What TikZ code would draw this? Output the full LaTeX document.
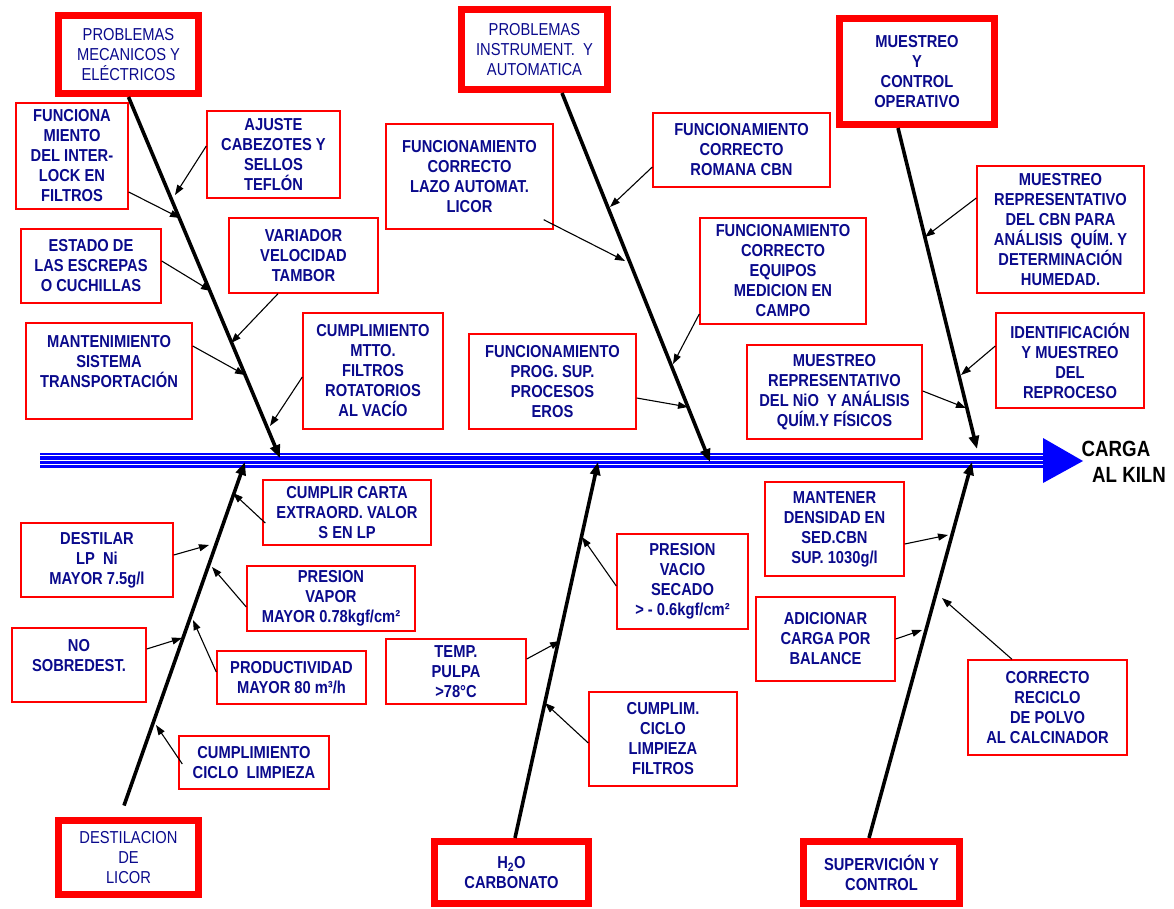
\documentclass[tikz,border=0pt]{standalone}
\usepackage{fontspec}
\setmainfont{Liberation Sans}[FakeStretch=0.85]
\usetikzlibrary{arrows.meta}
\definecolor{navy}{RGB}{10,10,140}
\newcommand\cfont{\fontsize{17.3}{20}\selectfont}
\newcommand\kfont{\fontsize{22}{26}\selectfont}
\tikzset{
  cause/.style={draw=red, line width=1.4pt, text=navy, font=\cfont\bfseries, align=center, inner sep=0pt},
  hdr/.style={draw=red, line width=7pt, text=navy, font=\cfont, align=center, inner sep=0pt},
  hdrb/.style={hdr, font=\cfont\bfseries},
  bone/.style={line width=3.6pt, -{Triangle[length=13pt,width=10pt]}},
  arr/.style={line width=1.1pt, -{Triangle[length=10pt,width=7pt]}},
  kiln/.style={font=\kfont\bfseries, text=black, inner sep=0pt}
}
\begin{document}
\begin{tikzpicture}[x=1pt,y=-1pt]
\useasboundingbox (0,0) rectangle (1174,908);
% spine
\fill[blue] (40,452.5) rectangle (1050,467.5);
\draw[white, line width=1.3pt] (40,455.6) -- (1050,455.6);
\draw[white, line width=0.9pt] (40,460.5) -- (1050,460.5);
\draw[white, line width=1.1pt] (40,464.4) -- (1050,464.4);
\fill[blue] (1043,438) -- (1083,461) -- (1043,483) -- cycle;
\node[kiln] (carga) at (1116,449) {CARGA};
\node[kiln] (alkiln) at (1129,475) {AL KILN};

% headers
\node[hdr, minimum width=140pt, minimum height=78pt] (h1) at (128.5,54.5) {PROBLEMAS\\MECANICOS Y\\ELÉCTRICOS};
\node[hdr, minimum width=146pt, minimum height=80pt] (h2) at (534.5,49.5) {PROBLEMAS\\INSTRUMENT.~~Y\\AUTOMATICA};
\node[hdrb, minimum width=155pt, minimum height=106pt] (h3) at (917,71.5) {MUESTREO\\Y\\CONTROL\\OPERATIVO};
\node[hdr, minimum width=140pt, minimum height=74pt] (h4) at (128.5,857.5) {DESTILACION\\DE\\LICOR};
\node[hdrb, minimum width=154pt, minimum height=62pt] (h5) at (511.5,872.5) {H\textsubscript{2}O\\CARBONATO};
\node[hdrb, minimum width=156pt, minimum height=62pt] (h6) at (881.5,872.5) {SUPERVICIÓN Y\\CONTROL};

% bone ends
\coordinate (s1) at (280,458);
\coordinate (s2) at (710,462);
\coordinate (s3) at (977,449);
\coordinate (s4) at (245,462);
\coordinate (s5) at (598,462);
\coordinate (s6) at (972,462);

\draw[bone] (h1.south) -- (s1);
\draw[bone] ([xshift=27.5pt]h2.south) -- (s2);
\draw[bone] ([xshift=-19pt]h3.south) -- (s3);
\draw[bone] ([xshift=-4.5pt,yshift=11.5pt]h4.north) -- (s4);
\draw[bone] ([xshift=3.5pt]h5.north) -- (s5);
\draw[bone] ([xshift=-12.5pt]h6.north) -- (s6);

% cause boxes - top left
\node[cause, minimum width=112pt, minimum height=106pt] (funciona) at (72,156) {FUNCIONA\\MIENTO\\DEL INTER-\\LOCK EN\\FILTROS};
\node[cause, minimum width=133pt, minimum height=87pt] (ajuste) at (273.5,154.5) {AJUSTE\\CABEZOTES Y\\SELLOS\\TEFLÓN};
\node[cause, minimum width=140pt, minimum height=74pt] (estado) at (91,266) {ESTADO DE\\LAS ESCREPAS\\O CUCHILLAS};
\node[cause, minimum width=149pt, minimum height=75pt] (variador) at (303.5,255.5) {VARIADOR\\VELOCIDAD\\TAMBOR};
\node[cause, minimum width=166pt, minimum height=96pt] (manten) at (109,371) {MANTENIMIENTO\\SISTEMA\\TRANSPORTACIÓN\\~};
\node[cause, minimum width=140pt, minimum height=116pt] (cumpmtto) at (373,371) {CUMPLIMIENTO\\MTTO.\\FILTROS\\ROTATORIOS\\AL VACÍO};
% top middle
\node[cause, minimum width=167pt, minimum height=105pt] (lazo) at (469.5,176.5) {FUNCIONAMIENTO\\CORRECTO\\LAZO AUTOMAT.\\LICOR};
\node[cause, minimum width=177pt, minimum height=74pt] (romana) at (741.5,150) {FUNCIONAMIENTO\\CORRECTO\\ROMANA CBN};
\node[cause, minimum width=166pt, minimum height=106pt] (equipos) at (783,271) {FUNCIONAMIENTO\\CORRECTO\\EQUIPOS\\MEDICION EN\\CAMPO};
\node[cause, minimum width=167pt, minimum height=95pt] (progsup) at (552.5,381.5) {FUNCIONAMIENTO\\PROG. SUP.\\PROCESOS\\EROS};
% top right
\node[cause, minimum width=167pt, minimum height=127pt] (mcbn) at (1060.5,229.5) {MUESTREO\\REPRESENTATIVO\\DEL CBN PARA\\ANÁLISIS~~QUÍM. Y\\DETERMINACIÓN\\HUMEDAD.};
\node[cause, minimum width=148pt, minimum height=95pt] (ident) at (1070,360.5) {IDENTIFICACIÓN\\Y MUESTREO\\DEL\\REPROCESO};
\node[cause, minimum width=175pt, minimum height=94pt] (nio) at (834.5,392) {MUESTREO\\REPRESENTATIVO\\DEL NiO~~Y ANÁLISIS\\QUÍM.Y FÍSICOS};
% bottom left
\node[cause, minimum width=168pt, minimum height=65pt] (carta) at (347,512.5) {CUMPLIR CARTA\\EXTRAORD. VALOR\\S EN LP};
\node[cause, minimum width=152pt, minimum height=74pt] (destilar) at (97,560) {DESTILAR\\LP~~Ni\\MAYOR 7.5g/l};
\node[cause, minimum width=168pt, minimum height=65pt] (pvapor) at (331,598.5) {PRESION\\VAPOR\\MAYOR 0.78kgf/cm²};
\node[cause, minimum width=134pt, minimum height=74pt] (nosob) at (79,665) {NO\\SOBREDEST.\\~};
\node[cause, minimum width=149pt, minimum height=53pt] (prod) at (291.5,677.5) {PRODUCTIVIDAD\\MAYOR 80 m³/h};
\node[cause, minimum width=150pt, minimum height=53pt] (ciclo) at (254,762.5) {CUMPLIMIENTO\\CICLO~~LIMPIEZA};
% bottom middle
\node[cause, minimum width=131pt, minimum height=95pt] (pvacio) at (682.5,581.5) {PRESION\\VACIO\\SECADO\\> - 0.6kgf/cm²};
\node[cause, minimum width=140pt, minimum height=65pt] (temp) at (456,671.5) {TEMP.\\PULPA\\>78°C};
\node[cause, minimum width=148pt, minimum height=94pt] (cumpciclo) at (663,739) {CUMPLIM.\\CICLO\\LIMPIEZA\\FILTROS};
% bottom right
\node[cause, minimum width=139pt, minimum height=94pt] (mantener) at (834.5,529) {MANTENER\\DENSIDAD EN\\SED.CBN\\SUP. 1030g/l};
\node[cause, minimum width=139pt, minimum height=84pt] (adicionar) at (825.5,639) {ADICIONAR\\CARGA POR\\BALANCE};
\node[cause, minimum width=159pt, minimum height=95pt] (reciclo) at (1047.5,707.5) {CORRECTO\\RECICLO\\DE POLVO\\AL CALCINADOR};

% arrow tips on bones
\coordinate (t1) at (180,218);
\coordinate (t2) at (175,195);
\coordinate (t3) at (211,291);
\coordinate (t4) at (231,343);
\coordinate (t5) at (245,375);
\coordinate (t6) at (270,426);
\coordinate (t7) at (625,261);
\coordinate (t8) at (610,207);
\coordinate (t9) at (673,364);
\coordinate (t10) at (688,407);
\coordinate (t11) at (925,237);
\coordinate (t12) at (961,375);
\coordinate (t13) at (966,408);
\coordinate (t14) at (233,493);
\coordinate (t15) at (209,545);
\coordinate (t16) at (212,567);
\coordinate (t17) at (182,638);
\coordinate (t18) at (193,620);
\coordinate (t19) at (156,725);
\coordinate (t20) at (582,537);
\coordinate (t21) at (560,641);
\coordinate (t22) at (545,703);
\coordinate (t23) at (948,535);
\coordinate (t24) at (922,630);
\coordinate (t25) at (942,598);

\draw[arr] ([yshift=-36pt]funciona.east) -- (t1);
\draw[arr] ([yshift=8.5pt]ajuste.west) -- (t2);
\draw[arr] ([yshift=5pt]estado.east) -- (t3);
\draw[arr] ([xshift=-25.5pt]variador.south) -- (t4);
\draw[arr] ([yshift=25pt]manten.east) -- (t5);
\draw[arr] ([yshift=-6pt]cumpmtto.west) -- (t6);
\draw[arr] ([xshift=-10pt,yshift=10pt]lazo.south east) -- (t7);
\draw[arr] ([yshift=-17pt]romana.west) -- (t8);
\draw[arr] ([yshift=-43pt]equipos.west) -- (t9);
\draw[arr] ([yshift=-16.5pt]progsup.east) -- (t10);
\draw[arr] ([yshift=31.5pt]mcbn.west) -- (t11);
\draw[arr] ([yshift=14.5pt]ident.west) -- (t12);
\draw[arr] ([yshift=1pt]nio.east) -- (t13);
\draw[arr] ([xshift=3pt,yshift=-10.5pt]carta.west) -- (t14);
\draw[arr] ([yshift=5pt]destilar.east) -- (t15);
\draw[arr] ([yshift=-8.5pt]pvapor.west) -- (t16);
\draw[arr] ([yshift=16pt]nosob.east) -- (t17);
\draw[arr] ([yshift=5.5pt]prod.west) -- (t18);
\draw[arr] ([xshift=4pt,yshift=-1.5pt]ciclo.west) -- (t19);
\draw[arr] ([yshift=-4.5pt]pvacio.west) -- (t20);
\draw[arr] ([yshift=12.5pt]temp.east) -- (t21);
\draw[arr] ([yshift=-4pt]cumpciclo.west) -- (t22);
\draw[arr] ([yshift=-15pt]mantener.east) -- (t23);
\draw[arr] (adicionar.east) -- (t24);
\draw[arr] ([xshift=-35.5pt]reciclo.north) -- (t25);
\end{tikzpicture}
\end{document}
